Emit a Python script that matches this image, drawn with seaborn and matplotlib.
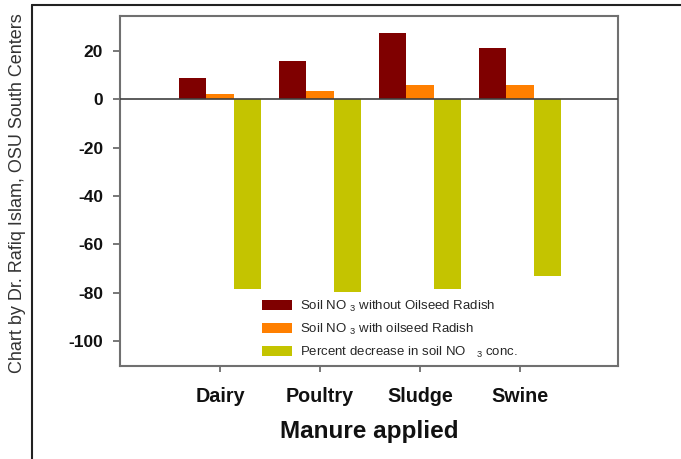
import numpy as np
import pandas as pd
import matplotlib.pyplot as plt
from matplotlib.lines import Line2D
import seaborn as sns

sns.set_theme(style="ticks")
plt.rcParams["font.family"] = ["Liberation Sans", "DejaVu Sans"]
plt.rcParams["mathtext.fontset"] = "custom"
plt.rcParams["mathtext.rm"] = "Liberation Sans"
plt.rcParams["mathtext.it"] = "Liberation Sans"
plt.rcParams["axes.unicode_minus"] = False

# data
manure = ["Dairy", "Poultry", "Sludge", "Swine"]
without_radish = [8.9, 15.8, 27.5, 21.1]
with_radish = [2.1, 3.3, 5.8, 5.8]
pct_decrease = [-78.3, -79.5, -78.3, -73.0]
series = ["Soil NO $_3$ without Oilseed Radish",
          "Soil NO $_3$ with oilseed Radish",
          "Percent decrease in soil NO   $_3$ conc."]
yticks = [-100, -80, -60, -40, -20, 0, 20]

COLORS = ["#7F0000", "#FF7F00", "#C4C400"]

df = pd.DataFrame({
    "manure": manure * 3,
    "value": without_radish + with_radish + pct_decrease,
    "series": [series[0]] * 4 + [series[1]] * 4 + [series[2]] * 4,
})

fig = plt.figure(figsize=(6.81, 4.59), dpi=100)
ax = fig.add_axes([0.1762, 0.2026, 0.7313, 0.7632])

sns.barplot(data=df, x="manure", y="value", hue="series", order=manure,
            hue_order=series, palette=COLORS, width=0.825, saturation=1,
            linewidth=0, errorbar=None, ax=ax)

ax.axhline(0, color="#404040", lw=1.2, zorder=3)
ax.set_xlim(-1.0, 3.98)
ax.set_ylim(-110.2, 34.5)
ax.set_yticks(yticks)
ax.set_ylabel("")
ax.set_xlabel("Manure applied", fontsize=17.5, fontweight="bold", labelpad=10,
              color="#111111")

for sp in ax.spines.values():
    sp.set_visible(True)
    sp.set_color("#707070")
    sp.set_linewidth(1.5)

ax.tick_params(axis="y", length=4.7, width=1.2, color="#606060", pad=7.5,
               labelsize=12.5, labelcolor="#111111")
ax.tick_params(axis="x", length=4, width=1.2, color="#606060", pad=11,
               labelsize=14.2, labelcolor="#111111")
for lab in ax.get_xticklabels() + ax.get_yticklabels():
    lab.set_fontweight("bold")

ax.legend(loc="center left", bbox_to_anchor=(0.385, 0.283),
          bbox_transform=fig.transFigure, frameon=False, fontsize=9.5,
          borderpad=0, borderaxespad=0, handlelength=2.27, handleheight=0.83,
          handletextpad=0.6, labelspacing=0.6)

# frame lines of the original image
fig.add_artist(Line2D([32 / 681, 1.0], [1 - 5 / 459, 1 - 5 / 459],
                      transform=fig.transFigure, color="#222222", lw=1.5))
fig.add_artist(Line2D([32 / 681, 32 / 681], [0, 1 - 5 / 459],
                      transform=fig.transFigure, color="#222222", lw=1.5))

fig.text(18 / 681, 1 - 193 / 459, "Chart by Dr. Rafiq Islam, OSU South Centers",
         rotation=90, ha="center", va="center", fontsize=13, color="#333333")

fig.savefig("out.png", dpi=100)
